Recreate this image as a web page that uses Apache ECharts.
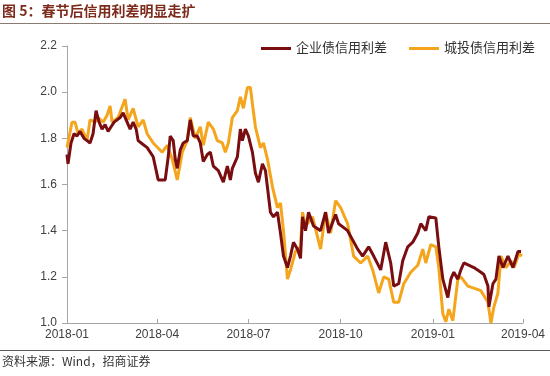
<!DOCTYPE html>
<html>
<head>
<meta charset="utf-8">
<script src="https://cdn.jsdelivr.net/npm/echarts@6/dist/echarts.min.js"></script>
<style>
  html, body { margin: 0; padding: 0; background: #fff; }
  #chart { width: 550px; height: 376px; }
</style>
</head>
<body>
<div id="chart"></div>
<script>
// 企业债信用利差
const corpDates = [
  '2018-01-01', '2018-01-02', '2018-01-05', '2018-01-08', '2018-01-11', '2018-01-14', '2018-01-18', '2018-01-21',
  '2018-01-24', '2018-01-27', '2018-01-30', '2018-02-02', '2018-02-05', '2018-02-08', '2018-02-11', '2018-02-14',
  '2018-02-17', '2018-02-20', '2018-02-23', '2018-02-26', '2018-03-01', '2018-03-05', '2018-03-08', '2018-03-11',
  '2018-03-13', '2018-03-16', '2018-03-22', '2018-03-28', '2018-03-31', '2018-04-02', '2018-04-09', '2018-04-12',
  '2018-04-14', '2018-04-17', '2018-04-19', '2018-04-21', '2018-04-24', '2018-04-27', '2018-05-01', '2018-05-04',
  '2018-05-07', '2018-05-11', '2018-05-14', '2018-05-17', '2018-05-21', '2018-05-24', '2018-05-27', '2018-06-01',
  '2018-06-06', '2018-06-10', '2018-06-13', '2018-06-15', '2018-06-20', '2018-06-23', '2018-06-25', '2018-06-28',
  '2018-07-01', '2018-07-05', '2018-07-08', '2018-07-11', '2018-07-15', '2018-07-18', '2018-07-23', '2018-07-26',
  '2018-07-30', '2018-08-02', '2018-08-05', '2018-08-09', '2018-08-12', '2018-08-15', '2018-08-19', '2018-08-22',
  '2018-08-24', '2018-08-27', '2018-08-30', '2018-09-04', '2018-09-11', '2018-09-16', '2018-09-19', '2018-09-26',
  '2018-09-29', '2018-10-08', '2018-10-13', '2018-10-18', '2018-10-23', '2018-10-29', '2018-11-03', '2018-11-10',
  '2018-11-15', '2018-11-20', '2018-11-23', '2018-11-28', '2018-12-02', '2018-12-07', '2018-12-12', '2018-12-17',
  '2018-12-20', '2018-12-25', '2018-12-28', '2019-01-04', '2019-01-07', '2019-01-11', '2019-01-16', '2019-01-19',
  '2019-01-22', '2019-01-26', '2019-01-29', '2019-02-01', '2019-02-11', '2019-02-18', '2019-02-21', '2019-02-25',
  '2019-02-26', '2019-03-02', '2019-03-05', '2019-03-08', '2019-03-12', '2019-03-17', '2019-03-22', '2019-03-27',
  '2019-03-30'
]
const corpValues = [
  1.73, 1.69, 1.78, 1.82, 1.81, 1.83, 1.80, 1.79,
  1.78, 1.82, 1.92, 1.87, 1.84, 1.86, 1.83, 1.85,
  1.87, 1.88, 1.89, 1.91, 1.88, 1.84, 1.87, 1.84,
  1.79, 1.78, 1.76, 1.72, 1.66, 1.62, 1.62, 1.72,
  1.81, 1.79, 1.71, 1.67, 1.75, 1.78, 1.79, 1.88,
  1.81, 1.81, 1.78, 1.70, 1.73, 1.74, 1.68, 1.66,
  1.61, 1.68, 1.62, 1.67, 1.72, 1.84, 1.79, 1.84,
  1.81, 1.74, 1.65, 1.61, 1.69, 1.66, 1.48, 1.46,
  1.48, 1.39, 1.29, 1.24, 1.29, 1.35, 1.32, 1.28,
  1.46, 1.40, 1.48, 1.42, 1.40, 1.48, 1.39, 1.47,
  1.43, 1.40, 1.36, 1.32, 1.29, 1.33, 1.29, 1.23,
  1.35, 1.26, 1.16, 1.17, 1.27, 1.33, 1.35, 1.39,
  1.43, 1.40, 1.46, 1.455, 1.33, 1.19, 1.11, 1.19,
  1.22, 1.19, 1.23, 1.26, 1.24, 1.22, 1.21, 1.16,
  1.07, 1.17, 1.19, 1.29, 1.24, 1.29, 1.24, 1.31,
  1.31
]

// 城投债信用利差
const cityDates = [
  '2018-01-01', '2018-01-06', '2018-01-09', '2018-01-12', '2018-01-16', '2018-01-21', '2018-01-24', '2018-01-29',
  '2018-02-01', '2018-02-06', '2018-02-10', '2018-02-13', '2018-02-15', '2018-02-21', '2018-02-28', '2018-03-03',
  '2018-03-08', '2018-03-13', '2018-03-18', '2018-03-22', '2018-03-28', '2018-04-06', '2018-04-11', '2018-04-16',
  '2018-04-21', '2018-04-26', '2018-05-01', '2018-05-04', '2018-05-09', '2018-05-14', '2018-05-17', '2018-05-22',
  '2018-05-27', '2018-05-31', '2018-06-05', '2018-06-08', '2018-06-11', '2018-06-15', '2018-06-20', '2018-06-23',
  '2018-06-26', '2018-06-30', '2018-07-03', '2018-07-05', '2018-07-08', '2018-07-13', '2018-07-16', '2018-07-20',
  '2018-07-25', '2018-07-30', '2018-08-02', '2018-08-05', '2018-08-09', '2018-08-12', '2018-08-17', '2018-08-22',
  '2018-08-24', '2018-08-27', '2018-09-03', '2018-09-11', '2018-09-16', '2018-09-21', '2018-09-26', '2018-10-01',
  '2018-10-08', '2018-10-14', '2018-10-21', '2018-10-28', '2018-11-02', '2018-11-08', '2018-11-13', '2018-11-18',
  '2018-11-23', '2018-11-28', '2018-12-03', '2018-12-10', '2018-12-17', '2018-12-22', '2018-12-25', '2018-12-30',
  '2019-01-04', '2019-01-07', '2019-01-11', '2019-01-14', '2019-01-17', '2019-01-21', '2019-01-26', '2019-01-29',
  '2019-02-05', '2019-02-18', '2019-02-25', '2019-02-28', '2019-03-03', '2019-03-07', '2019-03-10', '2019-03-15',
  '2019-03-20', '2019-03-23', '2019-03-28', '2019-03-31'
]
const cityValues = [
  1.76, 1.87, 1.87, 1.82, 1.84, 1.79, 1.88, 1.87,
  1.89, 1.87, 1.90, 1.94, 1.87, 1.89, 1.97, 1.88,
  1.93, 1.85, 1.88, 1.82, 1.78, 1.74, 1.77, 1.71,
  1.62, 1.74, 1.79, 1.89, 1.80, 1.85, 1.77, 1.87,
  1.84, 1.79, 1.78, 1.74, 1.78, 1.89, 1.92, 1.98,
  1.93, 2.02, 2.02, 1.95, 1.85, 1.76, 1.78, 1.71,
  1.59, 1.50, 1.52, 1.40, 1.19, 1.23, 1.31, 1.33,
  1.48, 1.42, 1.46, 1.32, 1.48, 1.39, 1.53, 1.50,
  1.43, 1.29, 1.26, 1.29, 1.23, 1.13, 1.20, 1.19,
  1.09, 1.09, 1.17, 1.22, 1.25, 1.32, 1.26, 1.34,
  1.33, 1.24, 1.04, 1.005, 1.06, 1.01, 1.19, 1.20,
  1.16, 1.14, 1.09, 1.00, 1.07, 1.13, 1.29, 1.24,
  1.27, 1.24, 1.30, 1.29
]

const xTickDates = ['2018-01-01', '2018-04-01', '2018-07-01', '2018-10-01', '2019-01-01', '2019-04-01']
const yTicks = [1.0, 1.2, 1.4, 1.6, 1.8, 2.0, 2.2]

function toTime (s) {
  let p = s.split('-')
  return Date.UTC(+p[0], +p[1] - 1, +p[2])
}
function pairs (dates, values) {
  return dates.map((d, i) => [toTime(d), values[i]])
}

const xTicks = xTickDates.map(toTime)
const font = 'Arial, "Liberation Sans", "Noto Sans CJK SC", sans-serif'

const chart = echarts.init(document.getElementById('chart'))
const option = {
  animation: false,
  backgroundColor: '#fff',
  grid: {
    left: 67,
    right: 27,
    top: 46,
    bottom: 53,
    containLabel: false
  },
  legend: {
    right: 10,
    top: 37,
    itemWidth: 30,
    itemHeight: 3,
    itemGap: 22,
    icon: 'rect',
    textStyle: {
      color: '#333',
      fontSize: 13,
      fontFamily: font
    },
    data: ['企业债信用利差', '城投债信用利差']
  },
  xAxis: {
    type: 'value',
    min: xTicks[0],
    max: xTicks[xTicks.length - 1],
    splitLine: { show: false },
    axisLine: { lineStyle: { color: '#a6a6a6' } },
    axisTick: {
      inside: true,
      length: 4,
      customValues: xTicks,
      lineStyle: { color: '#a6a6a6' }
    },
    axisLabel: {
      customValues: xTicks,
      color: '#404040',
      fontSize: 12,
      fontFamily: font,
      margin: 6,
      formatter: function (v) {
        let d = new Date(v)
        let m = d.getUTCMonth() + 1
        return d.getUTCFullYear() + '-' + (m < 10 ? '0' + m : m)
      }
    }
  },
  yAxis: {
    type: 'value',
    min: yTicks[0],
    max: yTicks[yTicks.length - 1],
    interval: 0.2,
    splitLine: { show: false },
    axisLine: { show: true, lineStyle: { color: '#a6a6a6' } },
    axisTick: { show: true, length: 5, lineStyle: { color: '#a6a6a6' } },
    axisLabel: {
      color: '#404040',
      fontSize: 12,
      fontFamily: font,
      margin: 10,
      formatter: v => v.toFixed(1)
    }
  },
  series: [
    {
      name: '企业债信用利差',
      type: 'line',
      showSymbol: false,
      symbol: 'none',
      lineStyle: { width: 3, color: '#7a0d10' },
      itemStyle: { color: '#7a0d10' },
      data: pairs(corpDates, corpValues),
      z: 3
    },
    {
      name: '城投债信用利差',
      type: 'line',
      showSymbol: false,
      symbol: 'none',
      lineStyle: { width: 3, color: '#f4a51c' },
      itemStyle: { color: '#f4a51c' },
      data: pairs(cityDates, cityValues),
      z: 2
    }
  ],
  graphic: [
    {
      type: 'text',
      left: 2,
      top: 4,
      style: {
        text: '图 5：春节后信用利差明显走扩',
        fill: '#7d2b1c',
        font: 'bold 14px "Noto Sans CJK SC", sans-serif'
      }
    },
    {
      type: 'line',
      shape: { x1: 0, y1: 23.5, x2: 550, y2: 23.5 },
      style: { stroke: '#8c7b70', lineWidth: 1.2 }
    },
    {
      type: 'line',
      shape: { x1: 0, y1: 350.5, x2: 550, y2: 350.5 },
      style: { stroke: '#5a5a5a', lineWidth: 1.2 }
    },
    {
      type: 'text',
      left: 2,
      top: 355,
      style: {
        text: '资料来源：Wind，招商证券',
        fill: '#333',
        font: '12px "Noto Sans CJK SC", Arial, sans-serif'
      }
    }
  ]
}
chart.setOption(option)
</script>
</body>
</html>
